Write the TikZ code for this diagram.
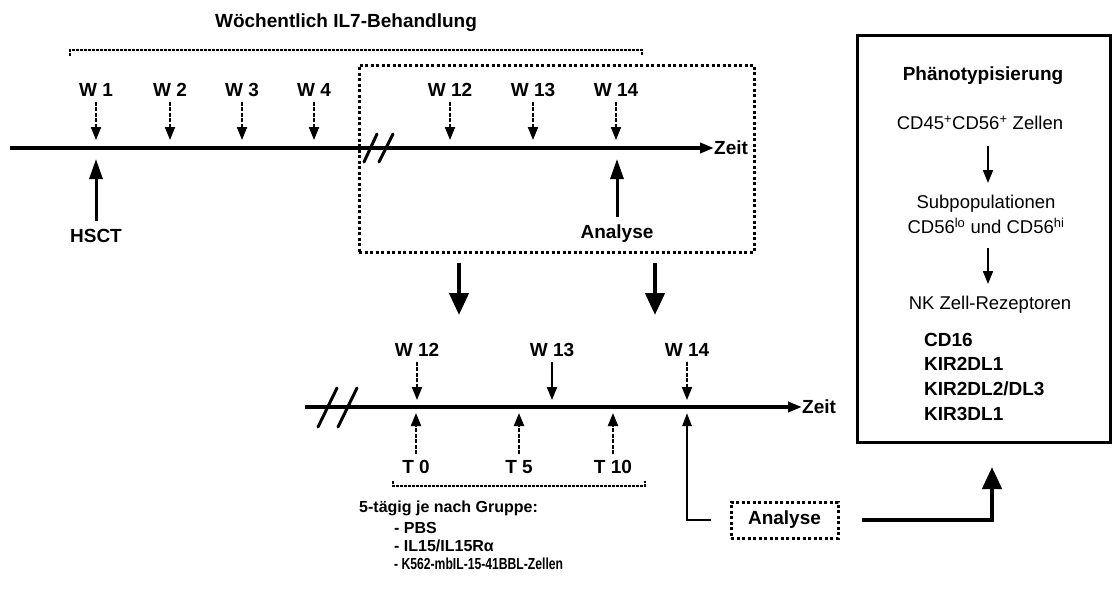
\documentclass[tikz,border=0pt]{standalone}
\usepackage{fontspec}
\setmainfont{Liberation Sans}
\usetikzlibrary{arrows.meta}
\begin{document}
\begin{tikzpicture}[x=1pt,y=-1pt,
  lab/.style={font=\bfseries\fontsize{19}{21}\selectfont, inner sep=1pt},
  labs/.style={font=\bfseries\fontsize{16}{18}\selectfont, inner sep=1pt},
  labr/.style={font=\fontsize{18.5}{20}\selectfont, inner sep=1pt},
  tl/.style={line width=3.5pt, -{Triangle[length=14pt,width=10pt]}},
  smarr/.style={line width=2pt, dash pattern=on 4pt off 1.5pt, -{Triangle[length=13pt,width=10pt]}},
  smsolid/.style={line width=2pt, -{Triangle[length=13pt,width=10pt]}},
  uparr/.style={line width=3pt, -{Triangle[length=20pt,width=13pt]}},
  thinup/.style={line width=2.5pt, -{Triangle[length=13pt,width=9pt]}},
  bigarr/.style={line width=4.5pt, -{Triangle[length=22pt,width=19pt]}},
  dotbox/.style={draw, line width=3pt, dash pattern=on 3pt off 2.5pt},
  brk/.style={line width=3pt, line cap=round},
  brack/.style={line width=2.5pt, dash pattern=on 3pt off 1pt},
  box/.style={draw, line width=3pt}]
\useasboundingbox (0,0) rectangle (1114,597);

% ---------- top part ----------
\node[lab] (title) at (346,23) {Wöchentlich IL7-Behandlung};
\coordinate (b1) at (70,56);
\coordinate (b2) at (642,56);
\draw[brack] (b1) -- (70,50) -- (642,50) -- (b2);

\node[dotbox, minimum width=395, minimum height=187] (zoombox) at (556.5,158.5) {};

\coordinate (s1) at (10,148);
\node[lab, anchor=west, inner sep=0pt] (zeit1) at (714,148) {Zeit};
\draw[tl] (s1) -- (zeit1.west);
\draw[brk] (364,162) -- (377,134);
\draw[brk] (379,162) -- (393,134);

\coordinate (ty1) at (0,140);
\foreach \n/\x/\t in {w1/96/W 1, w2/170/W 2, w3/242/W 3, w4/314/W 4, w12/450/W 12, w13/533/W 13, w14/616/W 14}{
  \node[lab] (\n) at (\x,90) {\t};
  \draw[smarr, shorten <=4pt] (\n.south) -- (\n |- ty1);
}

\coordinate (ub1) at (0,159);
\node[lab] (hsct) at (96,236) {HSCT};
\draw[uparr] (hsct.north) ++(0,-7) -- (hsct |- ub1);
\node[lab] (ana1) at (617,234) {Analyse};
\draw[uparr] (ana1.north) ++(0,-7) -- (ana1 |- ub1);

% big arrows
\coordinate (ba1) at (459,263);
\coordinate (ba1e) at (459,315);
\coordinate (ba2) at (655,263);
\coordinate (ba2e) at (655,315);
\draw[bigarr] (ba1) -- (ba1e);
\draw[bigarr] (ba2) -- (ba2e);

% ---------- lower timeline ----------
\coordinate (s2) at (305,407);
\node[lab, anchor=west, inner sep=0pt] (zeit2) at (802,407) {Zeit};
\draw[tl] (s2) -- (zeit2.west);
\draw[brk] (318,427) -- (337,388);
\draw[brk] (338,427) -- (357,388);

\coordinate (ty2) at (0,400);
\node[lab] (lw12) at (417,350) {W 12};
\draw[smarr, shorten <=4pt] (lw12.south) -- (lw12 |- ty2);
\node[lab] (lw13) at (552,350) {W 13};
\draw[smsolid, shorten <=4pt] (lw13.south) -- (lw13 |- ty2);
\node[lab] (lw14) at (687,350) {W 14};
\draw[smarr, shorten <=4pt] (lw14.south) -- (lw14 |- ty2);

\coordinate (ty3) at (0,413);
\foreach \n/\x/\t in {t0/416/T 0, t5/519/T 5, t10/613/T 10}{
  \node[lab] (\n) at (\x,467) {\t};
  \draw[smarr, shorten <=5pt] (\n.north) -- (\n |- ty3);
}
\coordinate (c1) at (393,481);
\coordinate (c2) at (645,481);
\draw[brack] (c1) -- (393,486) -- (645,486) -- (c2);

\node[labs, anchor=west] (grp) at (358,508) {5-tägig je nach Gruppe:};
\node[labs, anchor=west] (g1) at (393,528) {- PBS};
\node[labs, anchor=west] (g2) at (393,546) {- IL15/IL15Rα};
\node[labs, anchor=west] (g3) at (393,564) {\scalebox{0.76}[1]{- K562-mbIL-15-41BBL-Zellen}};

% analysis box and connectors
\node[lab, dotbox, minimum width=107, minimum height=36] (ana2) at (784.5,520) {Analyse};
\coordinate (wtip) at (687,413);
\draw[thinup] ([xshift=-19pt]ana2.west) -| (wtip);
\coordinate (ptip) at (992,467);
\draw[bigarr] ([xshift=22pt]ana2.east) -| (ptip);

% ---------- phenotyping box ----------
\node[box, minimum width=253, minimum height=407] (pbox) at (983.5,238.5) {};
\node[lab] (ph) at (983,76) {Phänotypisierung};
\node[labr] (cd45) at (980,123) {CD45\textsuperscript{+}CD56\textsuperscript{+} Zellen};
\node[labr] (sub) at (986,204) {Subpopulationen};
\node[labr] (cd56) at (986,226) {CD56\textsuperscript{lo} und CD56\textsuperscript{hi}};
\node[labr] (nk) at (990,305) {NK Zell-Rezeptoren};
\coordinate (pa1) at (988,146);
\coordinate (pa1e) at (988,183);
\coordinate (pa2) at (988,248);
\coordinate (pa2e) at (988,284);
\draw[smsolid] (pa1) -- (pa1e);
\draw[smsolid] (pa2) -- (pa2e);
\node[lab, anchor=west] (r1) at (923,340) {CD16};
\node[lab, anchor=west] (r2) at (923,364) {KIR2DL1};
\node[lab, anchor=west] (r3) at (923,389) {KIR2DL2/DL3};
\node[lab, anchor=west] (r4) at (923,414) {KIR3DL1};
\end{tikzpicture}
\end{document}
